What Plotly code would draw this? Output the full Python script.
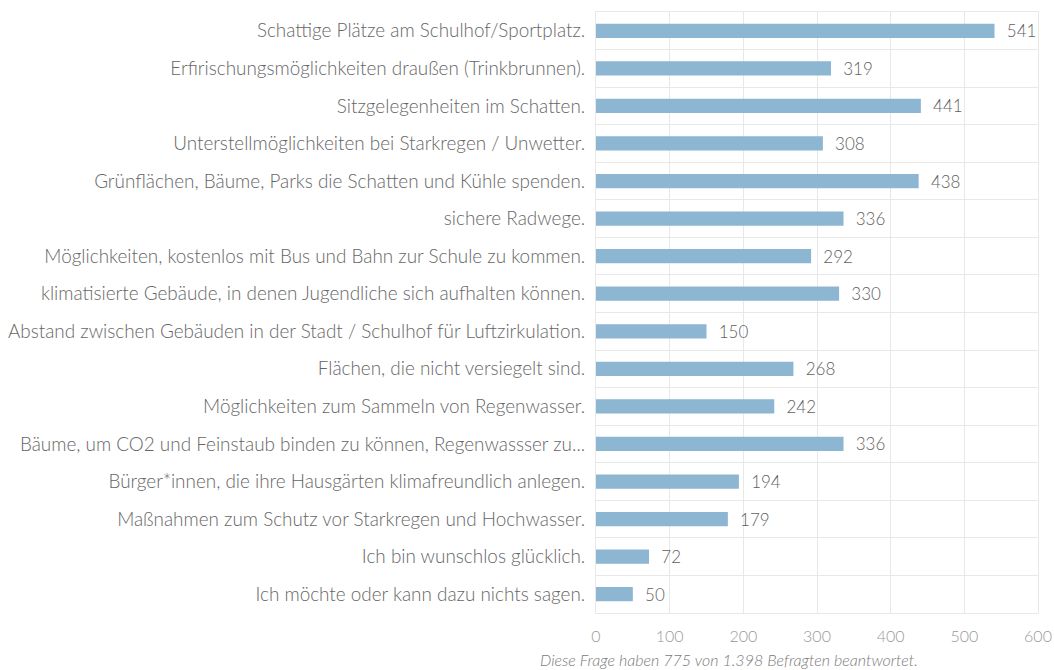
import plotly.graph_objects as go

categories = [
    "Schattige Plätze am Schulhof/Sportplatz.",
    "Erfirischungsmöglichkeiten draußen (Trinkbrunnen).",
    "Sitzgelegenheiten im Schatten.",
    "Unterstellmöglichkeiten bei Starkregen / Unwetter.",
    "Grünflächen, Bäume, Parks die Schatten und Kühle spenden.",
    "sichere Radwege.",
    "Möglichkeiten, kostenlos mit Bus und Bahn zur Schule zu kommen.",
    "klimatisierte Gebäude, in denen Jugendliche sich aufhalten können.",
    "Abstand zwischen Gebäuden in der Stadt / Schulhof für Luftzirkulation.",
    "Flächen, die nicht versiegelt sind.",
    "Möglichkeiten zum Sammeln von Regenwasser.",
    "Bäume, um CO2 und Feinstaub binden zu können, Regenwassser zu...",
    "Bürger*innen, die ihre Hausgärten klimafreundlich anlegen.",
    "Maßnahmen zum Schutz vor Starkregen und Hochwasser.",
    "Ich bin wunschlos glücklich.",
    "Ich möchte oder kann dazu nichts sagen.",
]
counts = [541, 319, 441, 308, 438, 336, 292, 330, 150, 268, 242, 336, 194, 179, 72, 50]
x_ticks = [0, 100, 200, 300, 400, 500, 600]
footnote = "Diese Frage haben 775 von 1.398 Befragten beantwortet."

fig = go.Figure(
    go.Bar(
        x=counts,
        y=categories,
        orientation="h",
        marker=dict(color="#8db6d2", line=dict(width=0)),
        text=["\u00a0\u00a0" + str(v) for v in counts],
        textposition="outside",
        constraintext="none",
        textfont=dict(family="Lato", size=17, color="#5f5f5f", weight=300),
        cliponaxis=False,
        hoverinfo="skip",
    )
)

fig.update_layout(
    width=1054,
    height=670,
    margin=dict(l=596, r=16, t=12, b=57),
    paper_bgcolor="white",
    plot_bgcolor="white",
    bargap=0.62,
    showlegend=False,
    font=dict(family="Lato", color="#666666"),
    xaxis=dict(
        range=[0, 600],
        tickvals=x_ticks,
        ticktext=[str(t) for t in x_ticks],
        showgrid=True,
        gridcolor="#e8e8e8",
        gridwidth=1,
        zeroline=False,
        showline=True,
        linecolor="#e8e8e8",
        mirror=True,
        ticks="",
        ticklabelstandoff=9,
        tickfont=dict(family="Lato", size=16, color="#999999", weight=300),
        automargin=False,
        fixedrange=True,
    ),
    yaxis=dict(
        categoryorder="array",
        categoryarray=categories,
        autorange="reversed",
        tickson="boundaries",
        showgrid=True,
        gridcolor="#e8e8e8",
        gridwidth=1,
        showline=True,
        linecolor="#e8e8e8",
        mirror=True,
        ticks="",
        ticklabelstandoff=6,
        tickfont=dict(family="Lato", size=18.9, color="#666666", weight=300),
        automargin=False,
        fixedrange=True,
    ),
    annotations=[
        dict(
            text=footnote,
            xref="paper",
            yref="paper",
            x=0.30,
            y=-0.078,
            xanchor="center",
            yanchor="middle",
            showarrow=False,
            font=dict(family="Lato", size=16, color="#7a7a7a", style="italic", weight=300),
        )
    ],
)

fig.write_html("out.html")
